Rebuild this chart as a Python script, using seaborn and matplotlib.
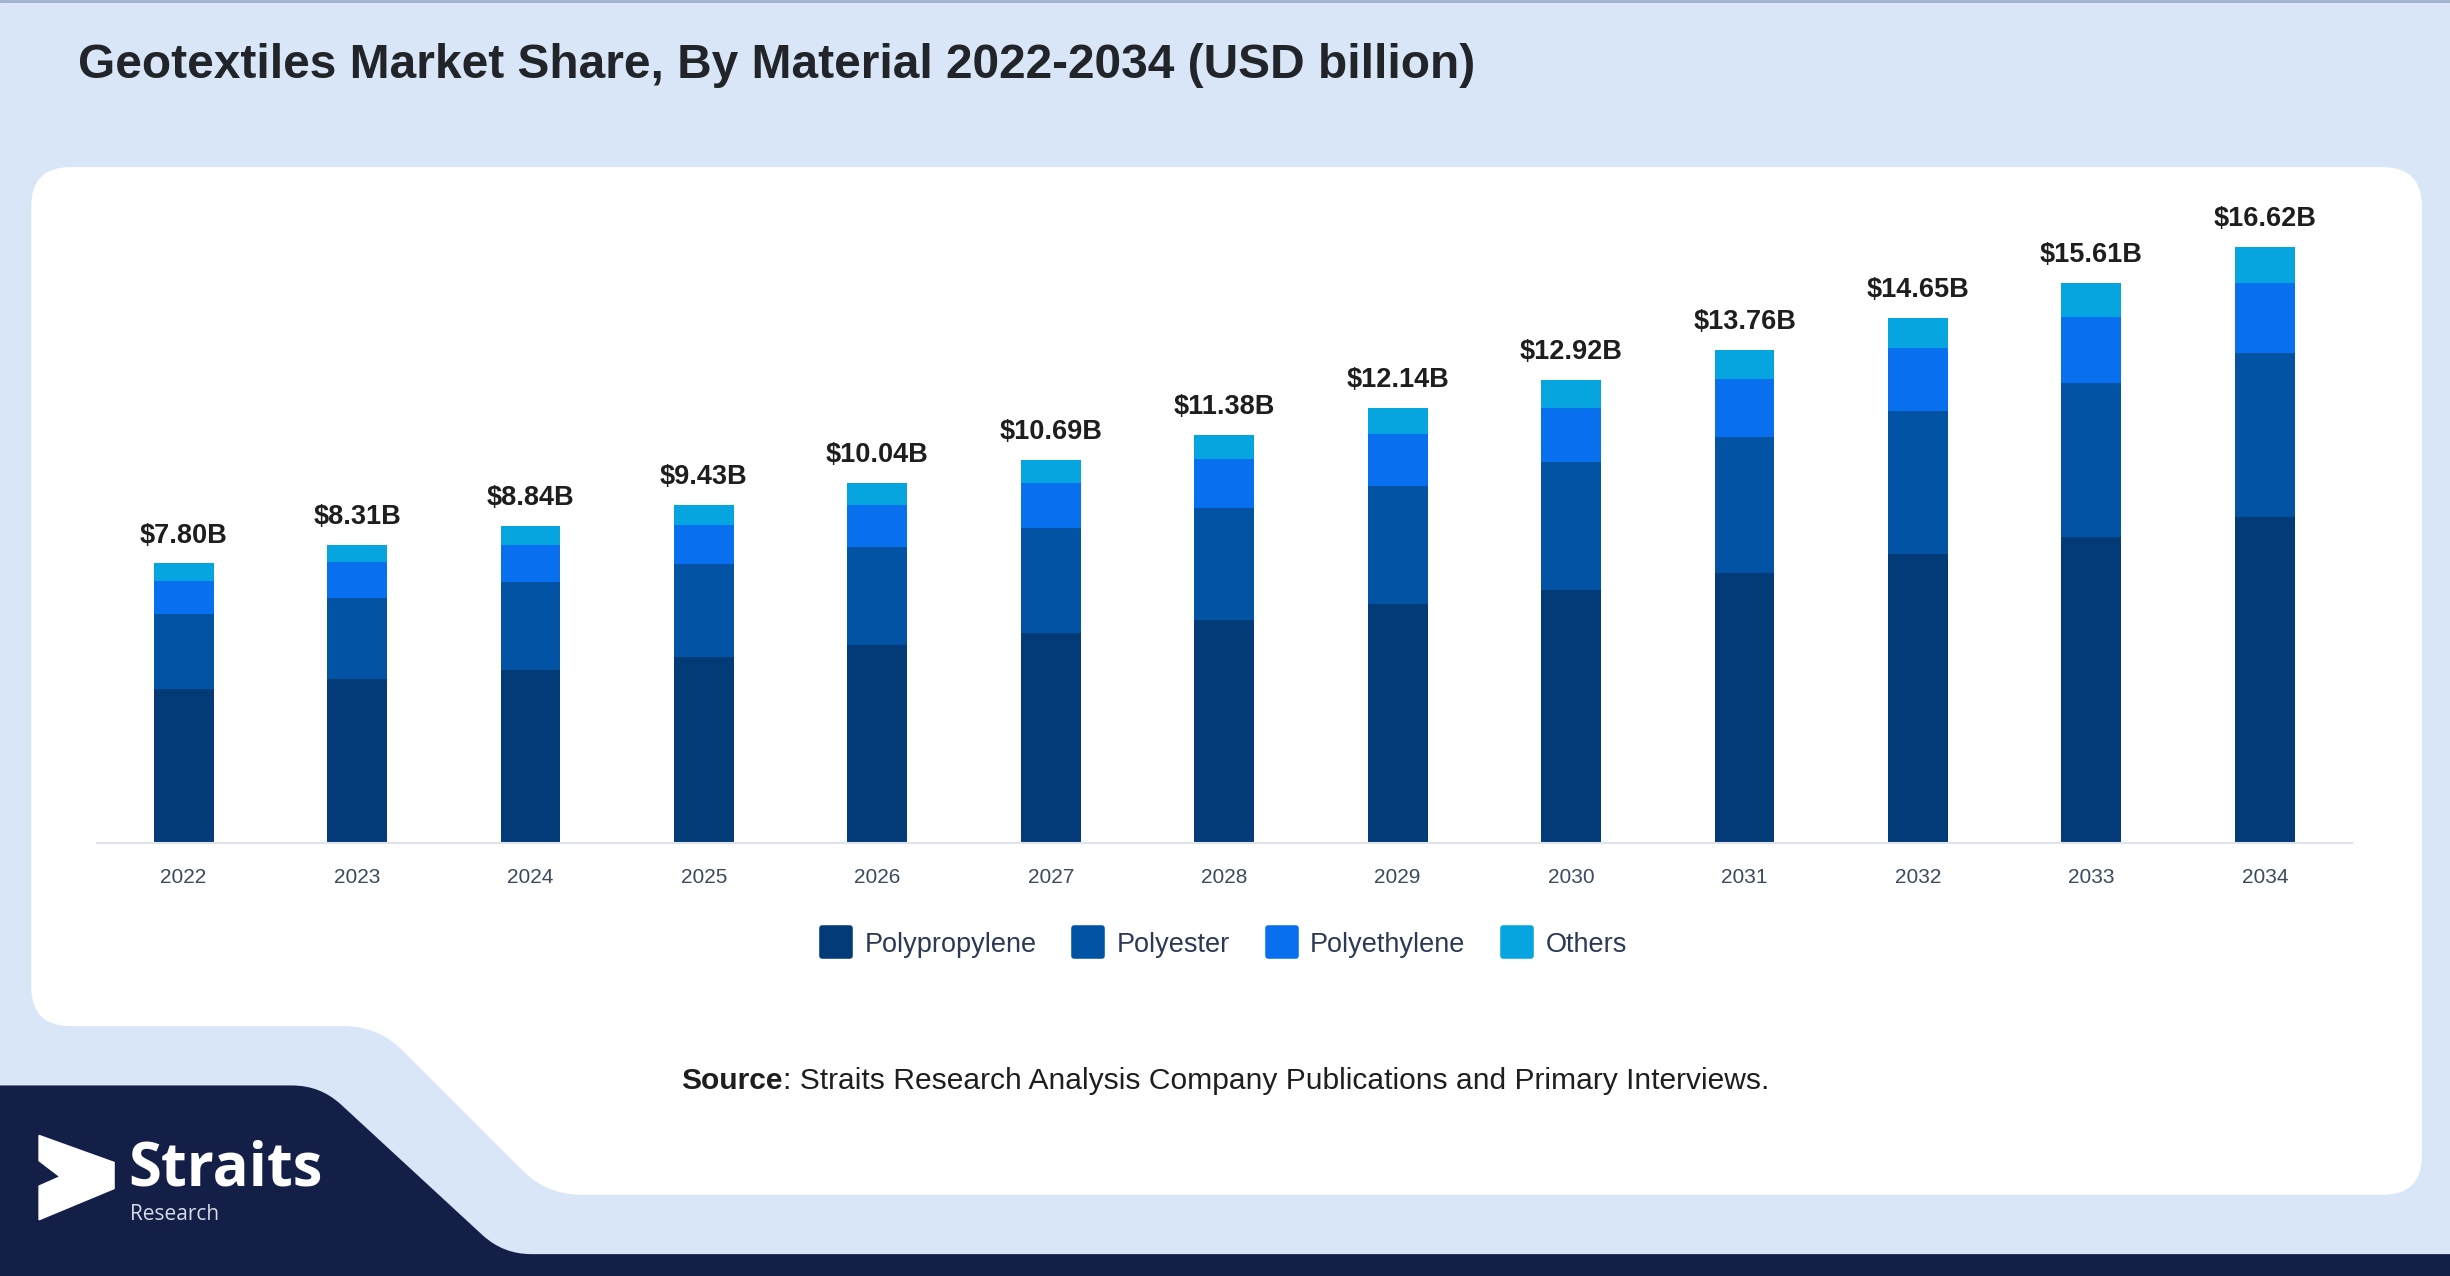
import numpy as np
import pandas as pd
import seaborn as sns
import matplotlib.pyplot as plt
from matplotlib.path import Path
from matplotlib.patches import PathPatch
from matplotlib.lines import Line2D
from matplotlib.markers import MarkerStyle

years = ['2022', '2023', '2024', '2025', '2026', '2027', '2028',
         '2029', '2030', '2031', '2032', '2033', '2034']
polypropylene = [4.31, 4.57, 4.83, 5.18, 5.53, 5.87, 6.22, 6.66, 7.05, 7.53, 8.05, 8.53, 9.09]
polyester = [2.09, 2.26, 2.44, 2.61, 2.74, 2.92, 3.13, 3.31, 3.57, 3.79, 4.00, 4.31, 4.57]
polyethylene = [0.91, 1.00, 1.04, 1.09, 1.17, 1.26, 1.35, 1.44, 1.52, 1.61, 1.74, 1.83, 1.96]
others = [0.49, 0.48, 0.53, 0.55, 0.60, 0.64, 0.68, 0.73, 0.78, 0.83, 0.86, 0.94, 1.00]
totals = [7.80, 8.31, 8.84, 9.43, 10.04, 10.69, 11.38, 12.14, 12.92, 13.76, 14.65, 15.61, 16.62]
materials = ['Polypropylene', 'Polyester', 'Polyethylene', 'Others']
colors = ['#033b78', '#0353a4', '#0870ee', '#07a5e0']

BG = '#d9e6f8'
NAVY = '#131f47'


def rounded_path(pts, radii):
    # polygon with corners softened by quadratic curves
    verts, codes = [], []
    n = len(pts)
    for i in range(n):
        p = np.array(pts[i], float)
        prev = np.array(pts[i - 1], float)
        nxt = np.array(pts[(i + 1) % n], float)
        r = radii[i]
        a = p + (prev - p) / np.linalg.norm(prev - p) * r
        b = p + (nxt - p) / np.linalg.norm(nxt - p) * r
        verts += [a, p, b]
        codes += [Path.MOVETO if i == 0 else Path.LINETO, Path.CURVE3, Path.CURVE3]
    verts.append(verts[0])
    codes.append(Path.CLOSEPOLY)
    return Path(verts, codes)


sns.set_theme(style='white')
plt.rcParams['font.family'] = ['Liberation Sans', 'DejaVu Sans']

fig = plt.figure(figsize=(24.5, 12.76), dpi=100, facecolor=BG)

# background decoration, drawn in 1568x817 page units
bg = fig.add_axes([0, 0, 1, 1], zorder=0)
bg.set_xlim(0, 1568)
bg.set_ylim(817, 0)
bg.axis('off')
bg.axhline(0.6, color='#9fb0cc', lw=2)
panel = [(20, 107), (1550, 107), (1550, 765), (350, 765), (242, 657), (20, 657)]
bg.add_patch(PathPatch(rounded_path(panel, [25, 25, 25, 22, 22, 25]), fc='white', ec='none'))
navy = [(0, 695), (205, 695), (322, 803), (1568, 803), (1568, 817), (0, 817)]
bg.add_patch(PathPatch(rounded_path(navy, [0, 18, 18, 0, 0, 0]), fc=NAVY, ec='none'))
chevron = np.array([(0, 0), (1, 0.32), (1, 0.63), (0, 1), (0, 0.6), (0.28, 0.49), (0, 0.3)])
chevron = chevron * [48, 54] + [25, 727]
bg.fill(chevron[:, 0], chevron[:, 1], color='white')
bg.text(82, 759, 'Straits', color='white', fontsize=43, fontweight='bold',
        family=['Open Sans', 'DejaVu Sans'], va='baseline', ha='left')
bg.text(83, 781, 'Research', color='#d8dce6', fontsize=15,
        family=['Open Sans', 'DejaVu Sans'], va='baseline', ha='left')

# chart
ax = fig.add_axes([62 / 1568, 1 - 540 / 817, 1443 / 1568, 430 / 817], zorder=1)
ax.patch.set_alpha(0)
df = pd.DataFrame({'Year': years, 'Polypropylene': polypropylene, 'Polyester': polyester,
                   'Polyethylene': polyethylene, 'Others': others})
stacked = df[materials].cumsum(axis=1)
for mat, col in reversed(list(zip(materials, colors))):
    sns.barplot(x=df['Year'], y=stacked[mat], color=col, width=0.345,
                saturation=1, linewidth=0, edgecolor=col, ax=ax, zorder=2)

for i, t in enumerate(totals):
    ax.annotate(f'${t:.2f}B', (i, t), xytext=(0, 15), textcoords='offset points',
                ha='center', va='baseline', fontsize=19.5, fontweight='bold', color='#1e1e1e')

ax.set_xlim(-0.5, 12.5)
ax.set_ylim(0, 430 / 22.98)
ax.set_xlabel('')
ax.set_ylabel('')
ax.set_yticks([])
ax.tick_params(axis='x', length=0, pad=18, labelsize=15, labelcolor='#3b4a5e')
for s in ['top', 'left', 'right']:
    ax.spines[s].set_visible(False)
ax.spines['bottom'].set_color('#dfe3e9')
ax.spines['bottom'].set_linewidth(1.5)

handles = [Line2D([], [], ls='none', marker=MarkerStyle('s', joinstyle='round'),
                  markersize=20, markerfacecolor=c, markeredgecolor=c, markeredgewidth=4)
           for c in colors]
fig.legend(handles, materials, loc='center', bbox_to_anchor=(783 / 1568, 1 - 605 / 817),
           ncol=4, frameon=False, fontsize=19.5, handlelength=1.2, handletextpad=0.45,
           columnspacing=1.3, labelcolor='#2b3954')

fig.text(50 / 1568, 1 - 42 / 817, 'Geotextiles Market Share, By Material 2022-2034 (USD billion)',
         fontsize=34.5, fontweight='bold', color='#212529', va='center', ha='left')
fig.text(501 / 1568, 1 - 692 / 817, 'Source', fontsize=21.6, fontweight='bold',
         color='#1e1e1e', va='center', ha='right')
fig.text(501 / 1568, 1 - 692 / 817,
         ': Straits Research Analysis Company Publications and Primary Interviews.',
         fontsize=21.6, color='#1e1e1e', va='center', ha='left')

fig.savefig('out.png', dpi=100, facecolor=BG)
